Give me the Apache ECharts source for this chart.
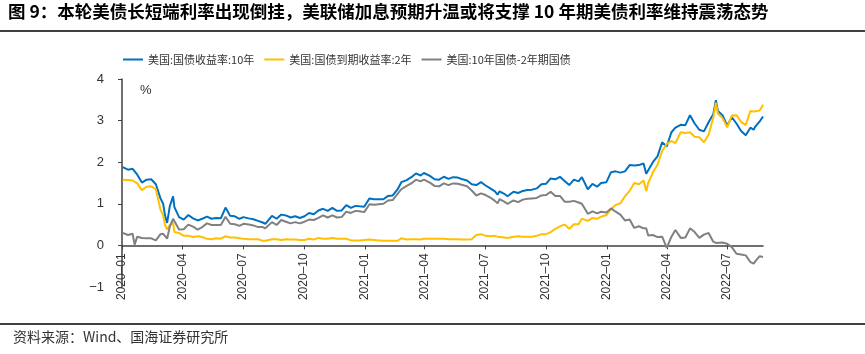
<!DOCTYPE html>
<html>
<head>
<meta charset="utf-8">
<script src="https://cdn.jsdelivr.net/npm/echarts@6/dist/echarts.min.js"></script>
<style>
  html, body { margin: 0; padding: 0; background: #fff; }
  #chart { width: 865px; height: 354px; }
</style>
</head>
<body>
<div id="chart"></div>
<script>
// ── Data (weekly readings, %) ───────────────────────────────────────────────
var dates = [
  '2020-01-02','2020-01-10','2020-01-17','2020-01-20','2020-01-24','2020-01-31','2020-02-07','2020-02-14','2020-02-21','2020-02-28',
  '2020-03-03','2020-03-06','2020-03-09','2020-03-13','2020-03-18','2020-03-20','2020-03-27','2020-04-03','2020-04-10','2020-04-17',
  '2020-04-24','2020-05-01','2020-05-08','2020-05-15','2020-05-22','2020-05-29','2020-06-05','2020-06-12','2020-06-19','2020-06-26',
  '2020-07-02','2020-07-10','2020-07-17','2020-07-24','2020-07-31','2020-08-04','2020-08-14','2020-08-21','2020-08-28','2020-09-04',
  '2020-09-11','2020-09-18','2020-09-25','2020-10-02','2020-10-09','2020-10-16','2020-10-23','2020-10-30','2020-11-06','2020-11-13',
  '2020-11-20','2020-11-27','2020-12-04','2020-12-11','2020-12-18','2020-12-24','2020-12-31',
  '2021-01-08','2021-01-15','2021-01-22','2021-01-29','2021-02-05','2021-02-12','2021-02-19','2021-02-25','2021-03-05','2021-03-12',
  '2021-03-19','2021-03-26','2021-03-31','2021-04-09','2021-04-16','2021-04-23','2021-04-30','2021-05-07','2021-05-14','2021-05-21',
  '2021-05-28','2021-06-04','2021-06-11','2021-06-18','2021-06-25','2021-07-02','2021-07-09','2021-07-16','2021-07-20','2021-07-23',
  '2021-07-30','2021-08-04','2021-08-13','2021-08-20','2021-08-27','2021-09-03','2021-09-10','2021-09-17','2021-09-24','2021-10-01',
  '2021-10-08','2021-10-15','2021-10-22','2021-10-29','2021-11-05','2021-11-12','2021-11-19','2021-11-24','2021-12-03','2021-12-10',
  '2021-12-17','2021-12-23','2021-12-31',
  '2022-01-07','2022-01-14','2022-01-21','2022-01-28','2022-02-04','2022-02-11','2022-02-18','2022-02-25','2022-03-01','2022-03-04',
  '2022-03-11','2022-03-18','2022-03-25','2022-04-01','2022-04-08','2022-04-14','2022-04-22','2022-04-29','2022-05-06','2022-05-13',
  '2022-05-20','2022-05-27','2022-06-03','2022-06-10','2022-06-14','2022-06-17','2022-06-24','2022-07-01','2022-07-08','2022-07-15',
  '2022-07-22','2022-07-29','2022-08-05','2022-08-10','2022-08-12','2022-08-19','2022-08-24'
];

var us10y = [
  1.88,1.82,1.84,1.80,1.70,1.51,1.58,1.59,1.47,1.13,
  1.00,0.71,0.54,0.94,1.18,0.92,0.68,0.62,0.73,0.65,
  0.60,0.64,0.69,0.64,0.66,0.65,0.91,0.71,0.70,0.64,
  0.68,0.65,0.63,0.59,0.55,0.52,0.71,0.64,0.74,0.72,
  0.67,0.70,0.66,0.70,0.78,0.75,0.84,0.88,0.83,0.90,
  0.83,0.84,0.97,0.90,0.95,0.94,0.93,
  1.13,1.11,1.11,1.11,1.19,1.20,1.34,1.52,1.57,1.64,
  1.73,1.68,1.74,1.67,1.59,1.58,1.65,1.60,1.64,1.63,
  1.59,1.56,1.47,1.45,1.52,1.44,1.37,1.30,1.22,1.30,
  1.24,1.18,1.29,1.26,1.31,1.33,1.34,1.37,1.47,1.48,
  1.61,1.59,1.65,1.55,1.45,1.58,1.54,1.64,1.35,1.48,
  1.41,1.50,1.52,
  1.76,1.78,1.75,1.78,1.93,1.92,1.93,1.97,1.72,1.74,
  2.00,2.14,2.48,2.38,2.72,2.83,2.90,2.89,3.13,2.93,
  2.78,2.74,2.96,3.15,3.49,3.23,3.13,2.88,3.08,2.93,
  2.75,2.65,2.83,2.78,2.85,2.98,3.10
];

var us2y = [
  1.58,1.57,1.56,1.55,1.49,1.33,1.41,1.42,1.35,0.86,
  0.72,0.49,0.38,0.49,0.54,0.32,0.30,0.23,0.23,0.20,
  0.22,0.20,0.16,0.15,0.17,0.16,0.22,0.19,0.19,0.17,
  0.16,0.15,0.15,0.15,0.11,0.11,0.15,0.15,0.13,0.15,
  0.14,0.14,0.13,0.13,0.16,0.14,0.18,0.16,0.16,0.18,
  0.16,0.16,0.16,0.12,0.12,0.12,0.13,
  0.14,0.13,0.12,0.11,0.11,0.11,0.11,0.17,0.14,0.15,
  0.15,0.14,0.16,0.16,0.16,0.16,0.16,0.15,0.15,0.15,
  0.14,0.14,0.15,0.25,0.27,0.23,0.22,0.23,0.21,0.19,
  0.19,0.18,0.21,0.22,0.21,0.21,0.21,0.23,0.27,0.27,
  0.32,0.40,0.46,0.50,0.40,0.51,0.51,0.64,0.59,0.66,
  0.64,0.69,0.73,
  0.87,0.97,1.01,1.18,1.31,1.50,1.47,1.56,1.31,1.50,
  1.75,1.94,2.27,2.44,2.51,2.46,2.72,2.70,2.72,2.61,
  2.60,2.48,2.66,3.06,3.43,3.17,3.06,2.84,3.12,3.13,
  2.97,2.89,3.23,3.22,3.24,3.24,3.38
];

var spread = [
  0.30,0.25,0.28,0.02,0.21,0.18,0.17,0.17,0.12,0.27,
  0.28,0.22,0.16,0.45,0.64,0.60,0.38,0.39,0.50,0.45,
  0.38,0.44,0.53,0.49,0.49,0.49,0.69,0.52,0.51,0.47,
  0.52,0.50,0.48,0.44,0.44,0.41,0.56,0.49,0.61,0.57,
  0.53,0.56,0.53,0.57,0.62,0.61,0.66,0.72,0.67,0.72,
  0.67,0.68,0.81,0.78,0.83,0.82,0.80,
  0.99,0.98,0.99,1.00,1.08,1.09,1.23,1.35,1.43,1.49,
  1.58,1.54,1.58,1.51,1.43,1.42,1.49,1.45,1.49,1.48,
  1.45,1.42,1.32,1.20,1.25,1.21,1.15,1.07,1.01,1.11,
  1.05,1.00,1.08,1.04,1.10,1.12,1.13,1.14,1.20,1.21,
  1.29,1.19,1.19,1.05,1.05,1.07,1.03,1.00,0.76,0.82,
  0.77,0.81,0.79,
  0.89,0.81,0.74,0.60,0.62,0.42,0.46,0.41,0.41,0.24,
  0.25,0.20,0.21,-0.06,0.21,0.37,0.18,0.19,0.41,0.32,
  0.18,0.26,0.30,0.09,0.06,0.06,0.07,0.04,-0.04,-0.20,
  -0.22,-0.24,-0.40,-0.44,-0.39,-0.26,-0.28
];

var seriesNames = ['美国:国债收益率:10年', '美国:国债到期收益率:2年', '美国:10年国债-2年期国债'];
var tickMonths = ['2020-01','2020-04','2020-07','2020-10','2021-01','2021-04','2021-07','2021-10','2022-01','2022-04','2022-07'];
var yTicks = [-1, 0, 1, 2, 3, 4];

(function() {
  'use strict';

  var C = {
    blue:   '#0070C0',
    yellow: '#FFC000',
    gray:   '#808080',
    axis:   '#404040',
    text:   '#333333',
  };
  var FONT = "'Noto Sans CJK SC', 'Noto Sans', sans-serif";
  var GRID = { left: 122, right: 102, top: 79, bottom: 67 };

  function ts(s) { return new Date(s + 'T00:00:00').getTime(); }
  function pair(vals) { return dates.map(function(d, i) { return [ts(d), vals[i]]; }); }
  function pad(n) { return (n < 10 ? '0' : '') + n; }

  var tickValues = tickMonths.map(function(m) { return ts(m + '-01'); });
  var yMin = yTicks[0], yMax = yTicks[yTicks.length - 1];
  // shift the x axis (line, ticks, labels) up from the grid bottom to y = 0
  var plotH = 354 - GRID.top - GRID.bottom;
  var xOffset = -plotH * (0 - yMin) / (yMax - yMin);

  function lineSeries(name, vals, color) {
    return {
      name: name, type: 'line', data: pair(vals),
      showSymbol: false, symbol: 'none',
      lineStyle: { color: color, width: 2 },
      itemStyle: { color: color },
    };
  }

  var chart = echarts.init(document.getElementById('chart'), null, { renderer: 'canvas' });
  chart.setOption({
    animation: false,
    backgroundColor: '#fff',
    grid: GRID,
    legend: {
      left: 118, top: 49,
      icon: 'rect', itemWidth: 20, itemHeight: 2, itemGap: 10,
      textStyle: { fontFamily: FONT, fontSize: 11, color: C.text },
      data: seriesNames,
    },
    // x is a plain value axis on timestamps so quarter ticks can be placed exactly
    xAxis: {
      type: 'value',
      min: ts('2020-01-01'), max: ts('2022-08-24'),
      offset: xOffset,
      axisLine: { onZero: false, lineStyle: { color: C.axis, width: 1.5 } },
      axisTick: { show: true, customValues: tickValues, length: 4, lineStyle: { color: C.axis } },
      axisLabel: {
        customValues: tickValues, rotate: 90, margin: 8, showMinLabel: true, showMaxLabel: true,
        fontFamily: 'Liberation Sans, Arial, sans-serif', fontSize: 12, color: C.text,
        formatter: function(v) { var d = new Date(v); return d.getFullYear() + '–' + pad(d.getMonth() + 1); },
      },
      splitLine: { show: false },
    },
    yAxis: {
      type: 'value', min: yMin, max: yMax, interval: 1,
      axisLine: { show: true, lineStyle: { color: C.axis, width: 1.5 } },
      axisTick: { show: true, length: 4, lineStyle: { color: C.axis } },
      axisLabel: {
        margin: 18, fontFamily: 'Liberation Sans, Arial, sans-serif', fontSize: 13, color: C.text,
        formatter: function(v) { return v < 0 ? '−' + (-v) : String(v); },
      },
      splitLine: { show: false },
    },
    series: [
      lineSeries(seriesNames[0], us10y, C.blue),
      lineSeries(seriesNames[1], us2y, C.yellow),
      lineSeries(seriesNames[2], spread, C.gray),
    ],
    graphic: [
      { type: 'text', left: 8, top: 3,
        style: { text: '图 9：本轮美债长短端利率出现倒挂，美联储加息预期升温或将支撑 10 年期美债利率维持震荡态势',
                 font: 'bold 17.5px ' + FONT, fill: '#000' } },
      { type: 'line', shape: { x1: 0, y1: 31, x2: 865, y2: 31 }, style: { stroke: '#000', lineWidth: 1.5 } },
      { type: 'text', left: 140, top: 84,
        style: { text: '%', font: '13px Liberation Sans, Arial, sans-serif', fill: C.text } },
      { type: 'line', shape: { x1: 0, y1: 324, x2: 865, y2: 324 }, style: { stroke: '#000', lineWidth: 1.5 } },
      { type: 'text', left: 13, top: 330,
        style: { text: '资料来源：Wind、国海证券研究所', font: '14px ' + FONT, fill: C.text } },
    ],
  });
})();
</script>
</body>
</html>
